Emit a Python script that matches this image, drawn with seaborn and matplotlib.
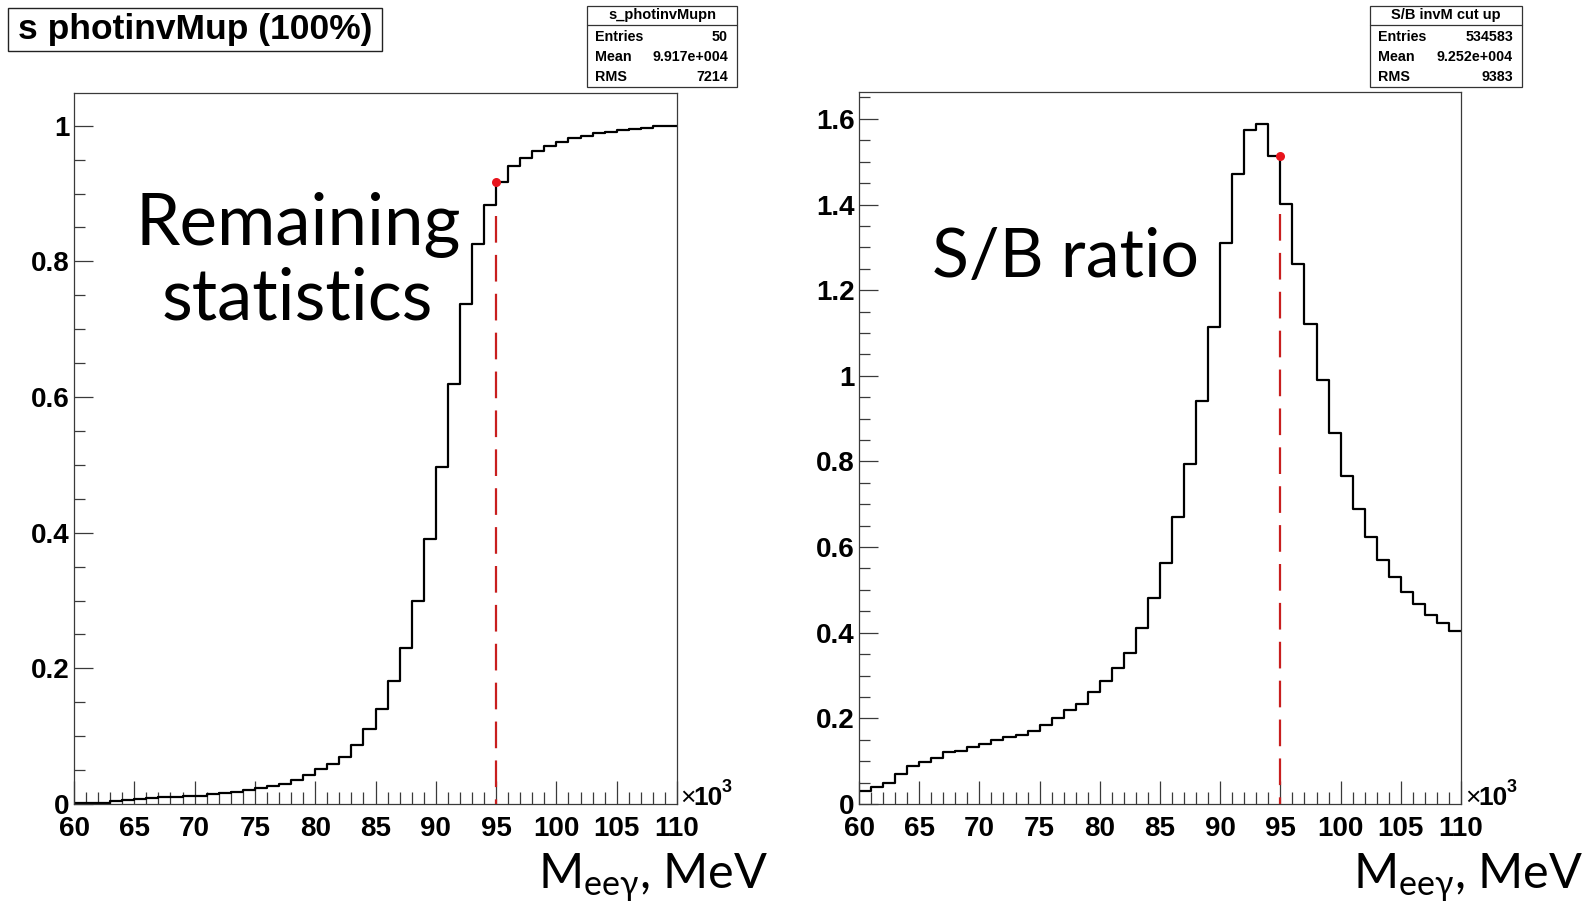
import numpy as np
import pandas as pd
import matplotlib
matplotlib.use("Agg")
import matplotlib.pyplot as plt
import seaborn as sns
from matplotlib.patches import Rectangle
from matplotlib.ticker import MultipleLocator, FuncFormatter

# ---- data -------------------------------------------------------------
# invariant mass M_eeg bin edges, in units of 10^3 MeV
bin_edges = list(range(60, 111))

# cumulative fraction of signal kept by the upper M_eeg cut
remaining_fraction = [
    0.001, 0.0015, 0.0015, 0.004, 0.006, 0.0075, 0.0085, 0.010, 0.010, 0.012,
    0.012, 0.015, 0.016, 0.018, 0.020, 0.023, 0.027, 0.030, 0.036, 0.043,
    0.051, 0.059, 0.070, 0.087, 0.111, 0.140, 0.181, 0.230, 0.299, 0.390,
    0.497, 0.619, 0.737, 0.825, 0.883, 0.9175, 0.940, 0.953, 0.963, 0.9705,
    0.976, 0.982, 0.985, 0.989, 0.991, 0.9935, 0.9955, 0.997, 0.999, 1.000,
]

# signal / background ratio as a function of the cut
sb_ratio = [
    0.031, 0.039, 0.050, 0.071, 0.089, 0.0986, 0.108, 0.122, 0.124, 0.133,
    0.140, 0.150, 0.157, 0.162, 0.171, 0.185, 0.202, 0.220, 0.234, 0.261,
    0.287, 0.317, 0.352, 0.411, 0.481, 0.564, 0.671, 0.793, 0.941, 1.115,
    1.310, 1.472, 1.574, 1.588, 1.513, 1.402, 1.261, 1.121, 0.990, 0.867,
    0.767, 0.688, 0.623, 0.570, 0.530, 0.495, 0.466, 0.441, 0.423, 0.405,
]

cut_position = 95
remaining_at_cut = 0.9175
sb_at_cut = 1.513
remaining_cut_line_top = 0.867
sb_cut_line_top = 1.377

left_title = "s photinvMup (100%)"
left_stats_name = "s_photinvMupn"
left_stats = [("Entries", "50"), ("Mean", "9.917e+004"), ("RMS", "7214")]
right_stats_name = "S/B invM cut up"
right_stats = [("Entries", "534583"), ("Mean", "9.252e+004"), ("RMS", "9383")]

# ---- style ------------------------------------------------------------
W, H = 1594, 901
sns.set_theme(style="white")
plt.rcParams["font.family"] = ["Liberation Sans", "DejaVu Sans"]
plt.rcParams["font.weight"] = "bold"
plt.rcParams["text.color"] = "black"
plt.rcParams["mathtext.fontset"] = "custom"
plt.rcParams["mathtext.rm"] = "Lato"
plt.rcParams["mathtext.it"] = "Lato:italic"
plt.rcParams["mathtext.bf"] = "Lato:bold"

fig = plt.figure(figsize=(W / 100, H / 100), dpi=100)
fig.patch.set_facecolor("white")


def fx(x):
    return x / W


def fy(y):
    return 1 - y / H


def add_axes_px(x0, x1, ytop, ybot):
    return fig.add_axes([fx(x0), fy(ybot), fx(x1 - x0), (ybot - ytop) / H])


ax_left = add_axes_px(74, 677, 92.5, 804)
ax_right = add_axes_px(859, 1461, 91.5, 804)

centers = np.array(bin_edges[:-1]) + 0.5
frame_color = "#3a3a3a"


def draw_panel(ax, values, ymax, cut_y, line_top):
    df = pd.DataFrame({"mass": centers, "value": values})
    sns.histplot(data=df, x="mass", weights="value", bins=bin_edges,
                 element="step", fill=False, color="black", linewidth=1.6,
                 ax=ax)
    ax.set_xlim(bin_edges[0], bin_edges[-1])
    ax.set_ylim(0, ymax)
    ax.set_xlabel("")
    ax.set_ylabel("")
    ax.set_facecolor("white")
    for sp in ax.spines.values():
        sp.set_color(frame_color)
        sp.set_linewidth(0.9)
    ax.xaxis.set_major_locator(MultipleLocator(5))
    ax.xaxis.set_minor_locator(MultipleLocator(1))
    ax.yaxis.set_major_locator(MultipleLocator(0.2))
    ax.yaxis.set_minor_locator(MultipleLocator(0.05))
    ax.yaxis.set_major_formatter(FuncFormatter(lambda v, p: f"{v:g}"))
    ax.xaxis.set_major_formatter(FuncFormatter(lambda v, p: f"{v:g}"))
    ax.tick_params(axis="both", which="both", direction="in", top=False,
                   right=False, bottom=True, left=True, color=frame_color,
                   width=0.9, labelcolor="black", labelsize=20)
    ax.tick_params(axis="x", which="major", length=16.5, pad=9)
    ax.tick_params(axis="x", which="minor", length=8.6)
    ax.tick_params(axis="y", which="major", length=13.5, pad=3)
    ax.tick_params(axis="y", which="minor", length=7.6)
    # cut marker
    ax.plot([cut_position, cut_position], [line_top, 0], color="#c81e1e",
            linewidth=1.6, dashes=(12, 5.5), zorder=3)
    ax.plot([cut_position], [cut_y], "o", color="#e8141c", markersize=6.5,
            markeredgewidth=0, zorder=4)


draw_panel(ax_left, remaining_fraction, 1.049, remaining_at_cut,
           remaining_cut_line_top)
draw_panel(ax_right, sb_ratio, 1.664, sb_at_cut, sb_cut_line_top)

# ---- exponent markers on the x axes -----------------------------------
for xpos in (680, 1465):
    fig.text(fx(xpos), fy(805), "\u00d7", fontsize=19, fontweight="normal",
             ha="left", va="baseline")
    fig.text(fx(xpos + 13), fy(805), "10", fontsize=19, fontweight="bold",
             ha="left", va="baseline")
    fig.text(fx(xpos + 42), fy(792), "3", fontsize=13, fontweight="bold",
             ha="left", va="baseline")

# ---- axis titles ------------------------------------------------------
for xr in (768, 1583):
    fig.text(fx(xr), fy(888), r"$\mathregular{M_{ee\gamma}}$, MeV",
             fontsize=35, fontweight="normal", family=["Lato", "DejaVu Sans"],
             ha="right", va="baseline")

# ---- panel annotations ------------------------------------------------
fig.text(fx(298), fy(245), "Remaining", fontsize=51, fontweight="normal",
         family=["Lato", "DejaVu Sans"], ha="center", va="baseline")
fig.text(fx(297), fy(320), "statistics", fontsize=51, fontweight="normal",
         family=["Lato", "DejaVu Sans"], ha="center", va="baseline")
fig.text(fx(1066), fy(277), "S/B ratio", fontsize=49, fontweight="normal",
         family=["Lato", "DejaVu Sans"], ha="center", va="baseline")

# ---- title box --------------------------------------------------------
fig.add_artist(Rectangle((fx(8), fy(51)), fx(374), 43 / H,
                         transform=fig.transFigure, facecolor="white",
                         edgecolor="#222222", linewidth=1.0))
fig.text(fx(18), fy(39), left_title, fontsize=25.5, fontweight="bold",
         ha="left", va="baseline")


# ---- statistics boxes -------------------------------------------------
def stats_box(x0, x1, name, rows):
    y0, y1, ysep = 6, 87, 24.5
    fig.add_artist(Rectangle((fx(x0), fy(y1)), fx(x1 - x0), (y1 - y0) / H,
                             transform=fig.transFigure, facecolor="white",
                             edgecolor="#333333", linewidth=0.9))
    fig.add_artist(plt.Line2D([fx(x0), fx(x1)], [fy(ysep), fy(ysep)],
                              transform=fig.transFigure, color="#333333",
                              linewidth=0.9))
    fam = ["Liberation Sans Narrow", "Liberation Sans", "DejaVu Sans"]
    fig.text(fx((x0 + x1) / 2), fy(15.5), name, fontsize=10.5,
             fontweight="bold", family=fam, ha="center", va="center")
    for i, (k, v) in enumerate(rows):
        yc = 36.6 + 20.3 * i
        fig.text(fx(x0 + 8), fy(yc), k, fontsize=10.3, fontweight="bold",
                 family=fam, ha="left", va="center")
        fig.text(fx(x1 - 9), fy(yc), v, fontsize=10.3, fontweight="bold",
                 family=fam, ha="right", va="center")


stats_box(587, 737, left_stats_name, left_stats)
stats_box(1370, 1522, right_stats_name, right_stats)

fig.savefig("out.png", dpi=100, facecolor="white")
